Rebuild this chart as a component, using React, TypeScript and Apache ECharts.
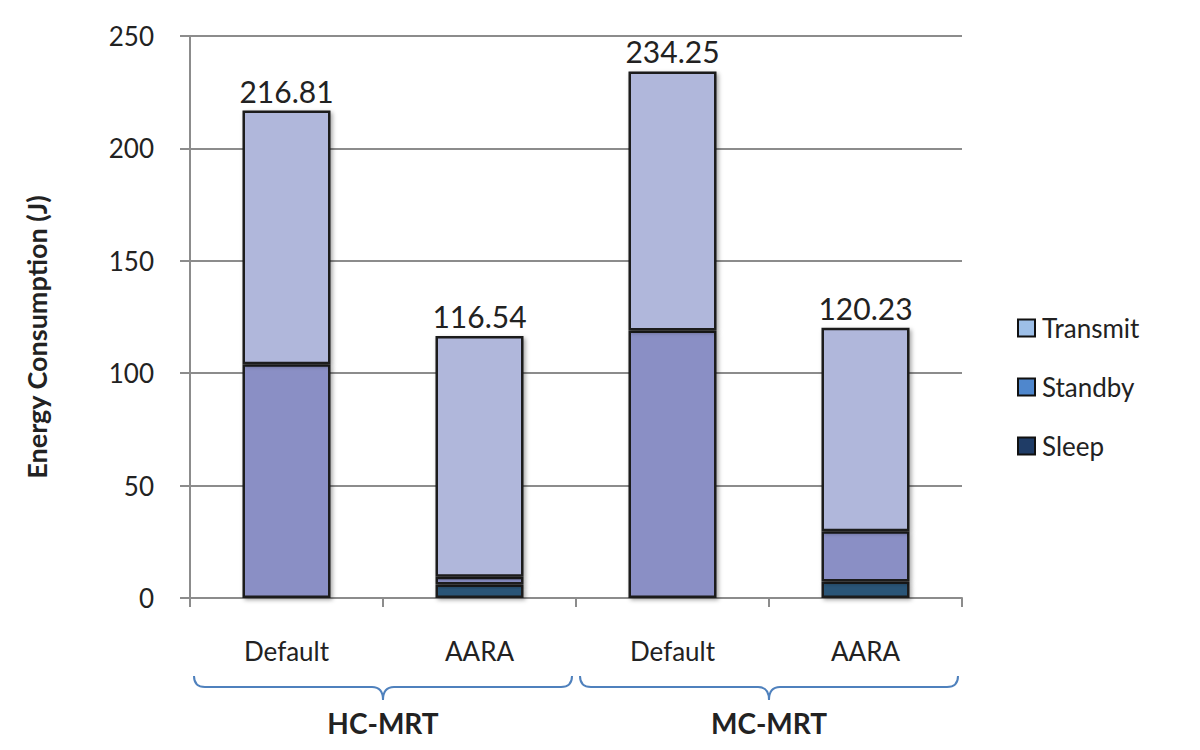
import React, { useEffect, useRef } from "react";
import * as echarts from "echarts";

const categories = ["Default", "AARA", "Default", "AARA"];
const groups = ["HC-MRT", "MC-MRT"];
const sleep = [0, 6.0, 0, 7.3];
const standby = [104, 3.5, 119, 22.4];
const transmit = [112.81, 107.04, 115.25, 90.53];
const totals = ["216.81", "116.54", "234.25", "120.23"];

const FONT = "Lato";
const BAR_COLORS = { Transmit: "#b0b7db", Standby: "#8a8fc5", Sleep: "#2b5577" };
const LEGEND_COLORS = { Transmit: "#9dbfe8", Standby: "#4f87cd", Sleep: "#1f3c66" };

export default function App() {
  const ref = useRef<HTMLDivElement>(null);
  useEffect(() => {
    if (!ref.current) return;
    const chart = echarts.init(ref.current, null, { renderer: "svg" });
    const itemBase = {
      borderColor: "#1b1b1b",
      borderWidth: 2.5,
      shadowBlur: 4,
      shadowColor: "rgba(0,0,0,0.35)",
      shadowOffsetX: 2,
      shadowOffsetY: 2,
    };
    chart.setOption({
      animation: false,
      backgroundColor: "#ffffff",
      textStyle: { fontFamily: FONT },
      grid: { left: 190, right: 238, top: 36, bottom: 152, containLabel: false },
      legend: {
        orient: "vertical",
        left: 1012,
        top: 310,
        itemWidth: 17,
        itemHeight: 17,
        itemGap: 33,
        icon: "rect",
        textStyle: { fontSize: 26, color: "#222", fontFamily: FONT, padding: [0, 0, 0, 2] },
        data: [
          { name: "Transmit", itemStyle: { color: LEGEND_COLORS.Transmit, borderColor: "#111", borderWidth: 2 } },
          { name: "Standby", itemStyle: { color: LEGEND_COLORS.Standby, borderColor: "#111", borderWidth: 2 } },
          { name: "Sleep", itemStyle: { color: LEGEND_COLORS.Sleep, borderColor: "#111", borderWidth: 2 } },
        ],
      },
      xAxis: {
        type: "category",
        data: categories,
        axisLine: { lineStyle: { color: "#8c8c8c", width: 2 } },
        axisTick: { show: true, alignWithLabel: false, length: 9, lineStyle: { color: "#8c8c8c", width: 2 } },
        axisLabel: { fontSize: 26, color: "#222", margin: 40, fontFamily: FONT },
        splitLine: { show: false },
      },
      yAxis: {
        type: "value",
        min: 0,
        max: 250,
        interval: 50,
        name: "Energy Consumption (J)",
        nameLocation: "middle",
        nameRotate: 90,
        nameGap: 140,
        nameTextStyle: { fontSize: 27, fontWeight: "bold", color: "#222", fontFamily: FONT, padding: [0, 40, 0, 0] },
        axisLine: { show: true, lineStyle: { color: "#8c8c8c", width: 2 } },
        axisTick: { show: true, inside: false, length: 10, lineStyle: { color: "#8c8c8c", width: 2 } },
        axisLabel: { fontSize: 26, color: "#222", margin: 36, fontFamily: FONT },
        splitLine: { show: true, lineStyle: { color: "#8c8c8c", width: 2 } },
      },
      series: [
        {
          name: "Sleep",
          type: "bar",
          stack: "e",
          barWidth: "45.6%",
          data: sleep,
          itemStyle: { ...itemBase, color: BAR_COLORS.Sleep },
        },
        {
          name: "Standby",
          type: "bar",
          stack: "e",
          data: standby,
          itemStyle: { ...itemBase, color: BAR_COLORS.Standby },
        },
        {
          name: "Transmit",
          type: "bar",
          stack: "e",
          data: transmit,
          itemStyle: { ...itemBase, color: BAR_COLORS.Transmit },
          label: {
            show: true,
            position: "top",
            distance: 5,
            fontSize: 30,
            color: "#222",
            fontFamily: FONT,
            formatter: (p: any) => totals[p.dataIndex],
          },
        },
      ],
    });

    const c0 = chart.convertToPixel({ xAxisIndex: 0 }, 0) as number;
    const c1 = chart.convertToPixel({ xAxisIndex: 0 }, 1) as number;
    const bw = c1 - c0;
    const yBase = chart.convertToPixel({ yAxisIndex: 0 }, 0) as number;
    const W = 2 * bw - 8;
    const h1 = 11;
    const h2 = 24;
    const r = 11;
    const d = `M0,0 Q0,${h1} ${r},${h1} L${W / 2 - r},${h1} Q${W / 2},${h1} ${W / 2},${h2} Q${W / 2},${h1} ${W / 2 + r},${h1} L${W - r},${h1} Q${W},${h1} ${W},0`;
    echarts.graphic.registerShape("brace", echarts.graphic.extendPath(d, {}) as any);
    const graphics: any[] = [];
    groups.forEach((g, i) => {
      const left = c0 - bw / 2 + i * 2 * bw + 4;
      graphics.push({
        type: "brace",
        x: left,
        y: yBase + 78,
        style: { fill: "none", stroke: "#4f81bd", lineWidth: 2 },
      });
      graphics.push({
        type: "text",
        x: left + W / 2,
        y: yBase + 125,
        style: {
          text: g,
          fontSize: 28,
          fontWeight: "bold",
          fontFamily: FONT,
          fill: "#222",
          align: "center",
          verticalAlign: "middle",
        },
      });
    });
    chart.setOption({ graphic: graphics });

    return () => chart.dispose();
  }, []);
  return <div ref={ref} style={{ width: 1200, height: 750, marginLeft: -8, marginTop: -8 }} />;
}
